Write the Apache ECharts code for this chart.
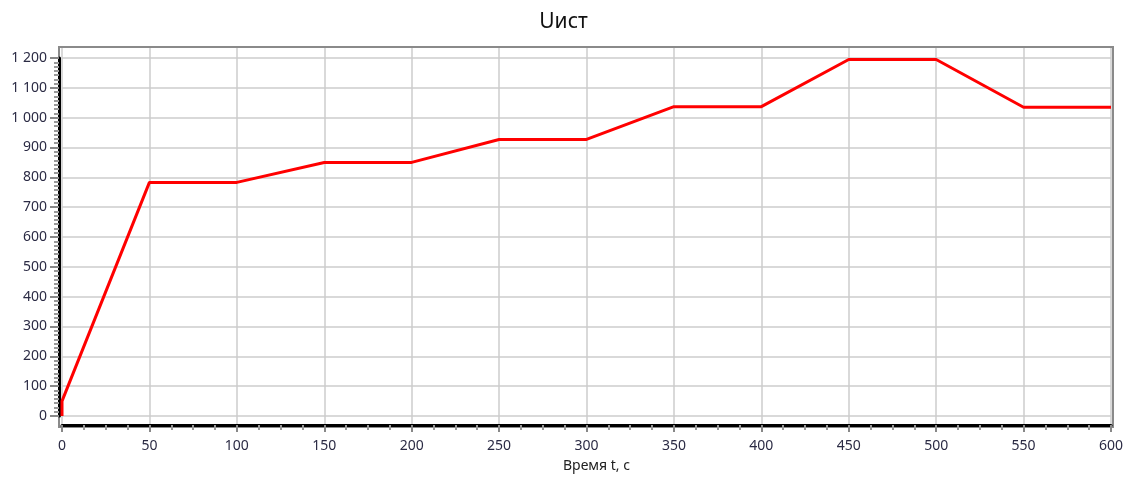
<!DOCTYPE html>
<html>
<head>
<meta charset="utf-8">
<script src="https://cdn.jsdelivr.net/npm/echarts@6/dist/echarts.min.js"></script>
<style>
  html, body { margin: 0; padding: 0; background: #fff; }
  #chart { width: 1127px; height: 478px; }
</style>
</head>
<body>
<div id="chart"></div>
<script>
// данные
var timeSec = [0, 0, 50, 100, 150, 200, 250, 300, 350, 400, 450, 500, 550, 600];
var voltage = [0, 50, 783, 783, 850, 850, 927, 927, 1037, 1037, 1195, 1195, 1035, 1035];
var chartTitle = 'Uист';
var xName = 'Время t, c';

(function () {
    let myChart = echarts.init(document.getElementById('chart'));

    let points = timeSec.map(function (t, i) { return [t, voltage[i]]; });

    let labelStyle = {
        color: '#2b2b44',
        fontSize: 14,
        fontFamily: 'Noto Sans'
    };
    let gridLine = { show: true, lineStyle: { color: '#cccccc', width: 1.5 } };

    let option = {
        animation: false,
        title: {
            text: chartTitle,
            left: 'center',
            top: 7,
            textStyle: { color: '#111', fontSize: 21, fontWeight: 'normal', fontFamily: 'Noto Sans' }
        },
        grid: [
            { left: 62, right: 16, top: 58, bottom: 60, containLabel: false },
            // рамка графика
            { left: 59, right: 14, top: 47, bottom: 51, show: true, borderColor: '#8a8a8a', borderWidth: 2, backgroundColor: 'transparent' },
            // вертикальные линии сетки на всю высоту рамки
            { left: 62, right: 16, top: 48, bottom: 51, show: false }
        ],
        xAxis: [
            {
                type: 'value',
                gridIndex: 0,
                min: 0,
                max: 600,
                interval: 50,
                offset: 9,
                axisLine: { show: true, onZero: false, lineStyle: { color: '#000', width: 3 } },
                axisTick: { show: true, inside: false, length: 7, lineStyle: { color: '#888', width: 2 } },
                minorTick: { show: true, splitNumber: 4, length: 5, lineStyle: { color: '#999', width: 2 } },
                axisLabel: Object.assign({ margin: 14 }, labelStyle),
                splitLine: { show: false },
                name: xName,
                nameLocation: 'middle',
                nameGap: 34,
                nameTextStyle: { color: '#222', fontSize: 14, fontFamily: 'Noto Sans', padding: [0, 0, 0, 20] },
                z: 3
            },
            { type: 'value', gridIndex: 1, show: false, splitLine: { show: false } },
            {
                type: 'value',
                gridIndex: 2,
                min: 0,
                max: 600,
                interval: 50,
                axisLine: { show: false },
                axisTick: { show: false },
                axisLabel: { show: false },
                splitLine: gridLine
            }
        ],
        yAxis: [
            {
                type: 'value',
                gridIndex: 0,
                min: 0,
                max: 1200,
                interval: 100,
                offset: 3,
                axisLine: { show: true, onZero: false, lineStyle: { color: '#000', width: 3 } },
                axisTick: { show: true, inside: false, length: 9, lineStyle: { color: '#888', width: 2 } },
                minorTick: { show: true, splitNumber: 7, length: 5, lineStyle: { color: '#999', width: 2 } },
                axisLabel: Object.assign({
                    margin: 12,
                    formatter: function (v) { return String(v).replace(/\B(?=(\d{3})+(?!\d))/g, ' '); }
                }, labelStyle),
                splitLine: gridLine,
                z: 3
            },
            { type: 'value', gridIndex: 1, show: false, splitLine: { show: false } },
            { type: 'value', gridIndex: 2, show: false, splitLine: { show: false } }
        ],
        series: [
            {
                name: chartTitle,
                type: 'line',
                xAxisIndex: 0,
                yAxisIndex: 0,
                data: points,
                showSymbol: false,
                clip: false,
                lineStyle: { color: '#ff0000', width: 3 },
                itemStyle: { color: '#ff0000' },
                z: 4
            }
        ]
    };

    myChart.setOption(option);
    window.addEventListener('resize', function () {
        myChart.resize();
    });
})();
</script>
</body>
</html>
